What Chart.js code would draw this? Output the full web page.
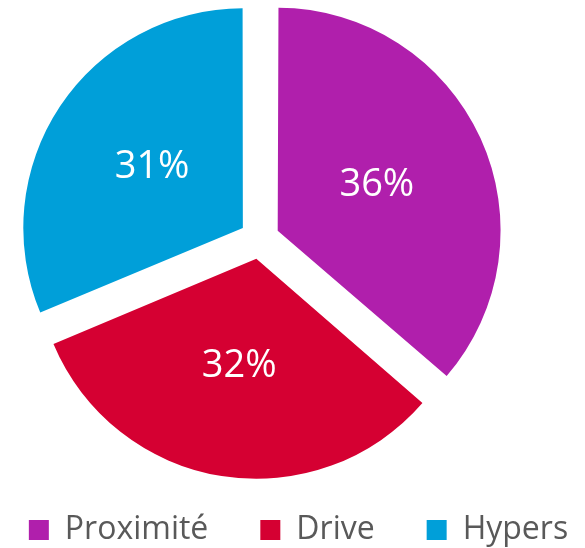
<!DOCTYPE html>
<html>
<head>
<meta charset="utf-8">
<script src="https://cdn.jsdelivr.net/npm/chart.js@4.4.0/dist/chart.umd.min.js"></script>
<style>
  html, body { margin: 0; padding: 0; background: #fff; }
  #wrap { width: 585px; height: 548px; }
</style>
</head>
<body>
<div id="wrap"><canvas id="pieChart"></canvas></div>
<script>
var labels = ['Proximité', 'Drive', 'Hypers'];
var shares = [36, 32, 31];
var colors = ['#b01fac', '#d50032', '#009fd9'];

var fontFamily = '"Open Sans", Lato, sans-serif';

// pie sits left of the legend's centre, so place the chart area by hand
var placePie = {
  id: 'placePie',
  afterLayout: function(chart) {
    var a = chart.chartArea;
    var cx = 259.5, cy = 239, half = 230;
    a.left = cx - half;
    a.right = cx + half;
    a.top = cy - half;
    a.bottom = cy + half;
    a.width = half * 2;
    a.height = half * 2;
  }
};

// percentage inside each slice
var sliceLabels = {
  id: 'sliceLabels',
  afterDatasetsDraw: function(chart) {
    var ctx = chart.ctx;
    var meta = chart.getDatasetMeta(0);
    ctx.save();
    ctx.font = '38px ' + fontFamily;
    ctx.fillStyle = '#ffffff';
    ctx.textAlign = 'center';
    ctx.textBaseline = 'middle';
    meta.data.forEach(function(arc, i) {
      var mid = (arc.startAngle + arc.endAngle) / 2;
      var d = arc.options.offset / 4 + arc.outerRadius * 0.5;
      ctx.fillText(shares[i] + '%', arc.x + Math.cos(mid) * d, arc.y + Math.sin(mid) * d);
    });
    ctx.restore();
  }
};

var ctx = document.getElementById('pieChart').getContext('2d');
var pieChart = new Chart(ctx, {
  type: 'pie',
  data: {
    labels: labels,
    datasets: [{
      data: shares,
      backgroundColor: colors,
      borderWidth: 0,
      offset: 80,
      hoverOffset: 0,
      radius: 218,
      clip: false
    }]
  },
  options: {
    responsive: true,
    maintainAspectRatio: false,
    animation: false,
    events: [],
    layout: {
      padding: { left: -97, right: -109, top: 0, bottom: -8 }
    },
    plugins: {
      tooltip: { enabled: false },
      legend: {
        position: 'bottom',
        labels: {
          boxWidth: 20,
          boxHeight: 20,
          padding: 52,
          color: '#595959',
          font: { family: fontFamily, size: 32 }
        }
      }
    }
  },
  plugins: [placePie, sliceLabels]
});
</script>
</body>
</html>
